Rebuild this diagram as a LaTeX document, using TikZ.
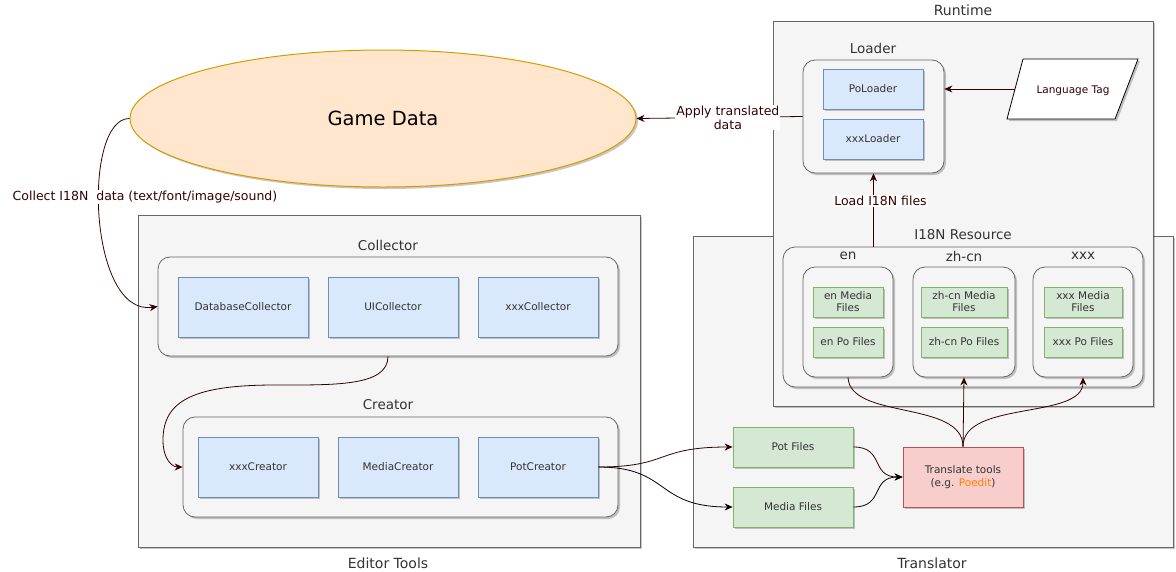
\documentclass[tikz,border=0pt]{standalone}
\usepackage{fontspec}
\setmainfont{DejaVu Sans}
\usetikzlibrary{arrows.meta,shadows,shapes.geometric}
\definecolor{cfill}{HTML}{F5F5F5}
\definecolor{cdraw}{HTML}{666666}
\definecolor{bfill}{HTML}{DAE8FC}
\definecolor{bdraw}{HTML}{6C8EBF}
\definecolor{gfill}{HTML}{D5E8D4}
\definecolor{gdraw}{HTML}{82B366}
\definecolor{rfill}{HTML}{F8CECC}
\definecolor{rdraw}{HTML}{B85450}
\definecolor{ofill}{HTML}{FFE6CC}
\definecolor{odraw}{HTML}{D79B00}
\definecolor{dred}{HTML}{330000}
\definecolor{txt}{HTML}{333333}
\definecolor{poedit}{HTML}{FF8000}
\tikzset{
  shad/.style={drop shadow={shadow xshift=2pt,shadow yshift=-2pt,fill=black,opacity=0.22}},
  container/.style={draw=cdraw,line width=0.8pt,fill=cfill,shad,inner sep=0pt},
  group/.style={draw=cdraw,line width=0.8pt,fill=cfill,rounded corners=12pt,shad,inner sep=0pt},
  bluebox/.style={draw=bdraw,line width=0.8pt,fill=bfill,shad,text=txt,font=\fontsize{10.5}{12.5}\selectfont,align=center,inner sep=0pt},
  greenbox/.style={draw=gdraw,line width=0.8pt,fill=gfill,shad,text=txt,font=\fontsize{10.5}{12}\selectfont,align=center,inner sep=0pt},
  redbox/.style={draw=rdraw,line width=0.8pt,fill=rfill,shad,text=txt,font=\fontsize{10.5}{13}\selectfont,align=center,inner sep=0pt},
  ctitle/.style={text=txt,font=\fontsize{14}{16}\selectfont},
  gtitle/.style={text=txt,font=\fontsize{13.5}{15}\selectfont},
  conn/.style={draw=dred,line width=0.8pt,-{Stealth[length=8pt,width=7pt]}},
  bconn/.style={draw=black,line width=0.8pt,-{Stealth[length=8pt,width=7pt]}},
  clabel/.style={text=dred,fill=white,inner sep=1pt,font=\fontsize{12.5}{14}\selectfont,align=center},
}
\begin{document}
\begin{tikzpicture}[x=1pt,y=-1pt]
\useasboundingbox (0,0) rectangle (1176,571);

% containers
\node[container,minimum width=502pt,minimum height=332pt] (edt) at (389,381) {};
\node[ctitle] (edtl) at (388,563) {Editor Tools};
\node[container,minimum width=480pt,minimum height=311pt] (trn) at (933,391.5) {};
\node[ctitle] (trnl) at (932,563) {Translator};
\node[container,minimum width=380pt,minimum height=385pt] (rt) at (963,213.5) {};
\node[ctitle] (rtl) at (963,10) {Runtime};

% game data
\node[ellipse,draw=odraw,line width=1pt,fill=ofill,shad,minimum width=506pt,minimum height=137pt,inner sep=0pt,font=\fontsize{19.5}{22}\selectfont] (gd) at (383,118.5) {Game Data};

% collector
\node[gtitle] (coll) at (388,245) {Collector};
\node[group,minimum width=460pt,minimum height=99pt] (col) at (388,306.5) {};
\node[bluebox,minimum width=130pt,minimum height=60pt] (dbc) at (243,307) {DatabaseCollector};
\node[bluebox,minimum width=130pt,minimum height=60pt] (uic) at (393,307) {UICollector};
\node[bluebox,minimum width=120pt,minimum height=60pt] (xxc) at (538,307) {xxxCollector};

% creator
\node[gtitle] (crel) at (388,405) {Creator};
\node[group,minimum width=435pt,minimum height=100pt] (cre) at (400.5,467) {};
\node[bluebox,minimum width=120pt,minimum height=60pt] (xcr) at (258,467) {xxxCreator};
\node[bluebox,minimum width=120pt,minimum height=60pt] (mcr) at (398,467) {MediaCreator};
\node[bluebox,minimum width=120pt,minimum height=60pt] (pcr) at (538,467) {PotCreator};

% loader
\node[gtitle] (ldrl) at (873,48) {Loader};
\node[group,minimum width=141pt,minimum height=113pt] (ldr) at (873.5,116.5) {};
\node[bluebox,minimum width=100pt,minimum height=40pt] (pol) at (873,89) {PoLoader};
\node[bluebox,minimum width=100pt,minimum height=40pt] (xxl) at (873,139) {xxxLoader};

% language tag
\fill[black,opacity=0.22] (1025,61) -- (1140,61) -- (1117,121) -- (1009,121) -- cycle;
\draw[black,line width=0.8pt,fill=white] (1023,59) -- (1138,59) -- (1115,119) -- (1007,119) -- cycle;
\node[text=dred,font=\fontsize{10.5}{12}\selectfont] (lt) at (1073,91) {Language Tag};
\coordinate (ltw) at (1015,89);

% I18N resource
\node[gtitle] (resl) at (963,235) {I18N Resource};
\node[group,minimum width=360pt,minimum height=140pt] (res) at (963,317) {};
\node[gtitle] (enl) at (848,256) {en};
\node[gtitle] (zhl) at (964,256) {zh-cn};
\node[gtitle] (xxl2) at (1083,256) {xxx};
\node[group,minimum width=90pt,minimum height=110pt] (en) at (848,322) {};
\node[group,minimum width=102pt,minimum height=110pt] (zh) at (964,322) {};
\node[group,minimum width=100pt,minimum height=110pt] (xx) at (1083,322) {};
\node[greenbox,minimum width=70pt,minimum height=30pt] (enm) at (848,302) {en Media\\Files};
\node[greenbox,minimum width=70pt,minimum height=30pt] (enp) at (848,342) {en Po Files};
\node[greenbox,minimum width=86pt,minimum height=30pt] (zhm) at (964,302) {zh-cn Media\\Files};
\node[greenbox,minimum width=86pt,minimum height=30pt] (zhp) at (964,342) {zh-cn Po Files};
\node[greenbox,minimum width=78pt,minimum height=30pt] (xxm) at (1083,302) {xxx Media\\Files};
\node[greenbox,minimum width=78pt,minimum height=30pt] (xxp) at (1083,342) {xxx Po Files};

% translator parts
\node[greenbox,minimum width=120pt,minimum height=40pt] (pot) at (793,447) {Pot Files};
\node[greenbox,minimum width=120pt,minimum height=40pt] (mf) at (793,507) {Media Files};
\node[redbox,minimum width=120pt,minimum height=60pt] (tt) at (963,477) {Translate tools\\(e.g. {\color{poedit}Poedit})};

% connectors
\draw[conn] (gd.west) .. controls (82,118) and (88,317) .. (col.west);
\node[clabel] (cl1) at (145,197) {Collect I18N\ \ data (text/font/image/sound)};

\draw[conn] (col.south) .. controls +(0,30) and +(60,0) .. (275,385)
  .. controls +(-80,0) and +(0,-40) .. (163,440)
  .. controls +(0,20) and +(-10,0) .. (cre.west);

\draw[conn] (pcr.east) .. controls (670,467) and (655,447) .. (pot.west);
\draw[bconn] (pcr.east) .. controls (670,467) and (655,507) .. (mf.west);
\draw[conn] (pot.east) .. controls (885,447) and (870,477) .. (tt.west);
\draw[bconn] (mf.east) .. controls (885,507) and (870,477) .. (tt.west);

\draw[draw=dred,line width=0.8pt] (tt.north) .. controls (963,400) and (850,420) .. (en.south);
\draw[conn] (tt.north) -- (zh.south);
\draw[conn] (tt.north) .. controls (963,400) and (1083,420) .. (xx.south);

\draw[conn] (res.north -| ldr.south) -- node[clabel,pos=0.62,xshift=7pt] (cl2) {Load I18N files} (ldr.south);
\draw[conn] (ldr.west) -- node[clabel,pos=0.45] (cl3) {Apply translated\\data} (gd.east);
\draw[conn] (ltw) -- (ltw -| ldr.east);
\end{tikzpicture}
\end{document}
